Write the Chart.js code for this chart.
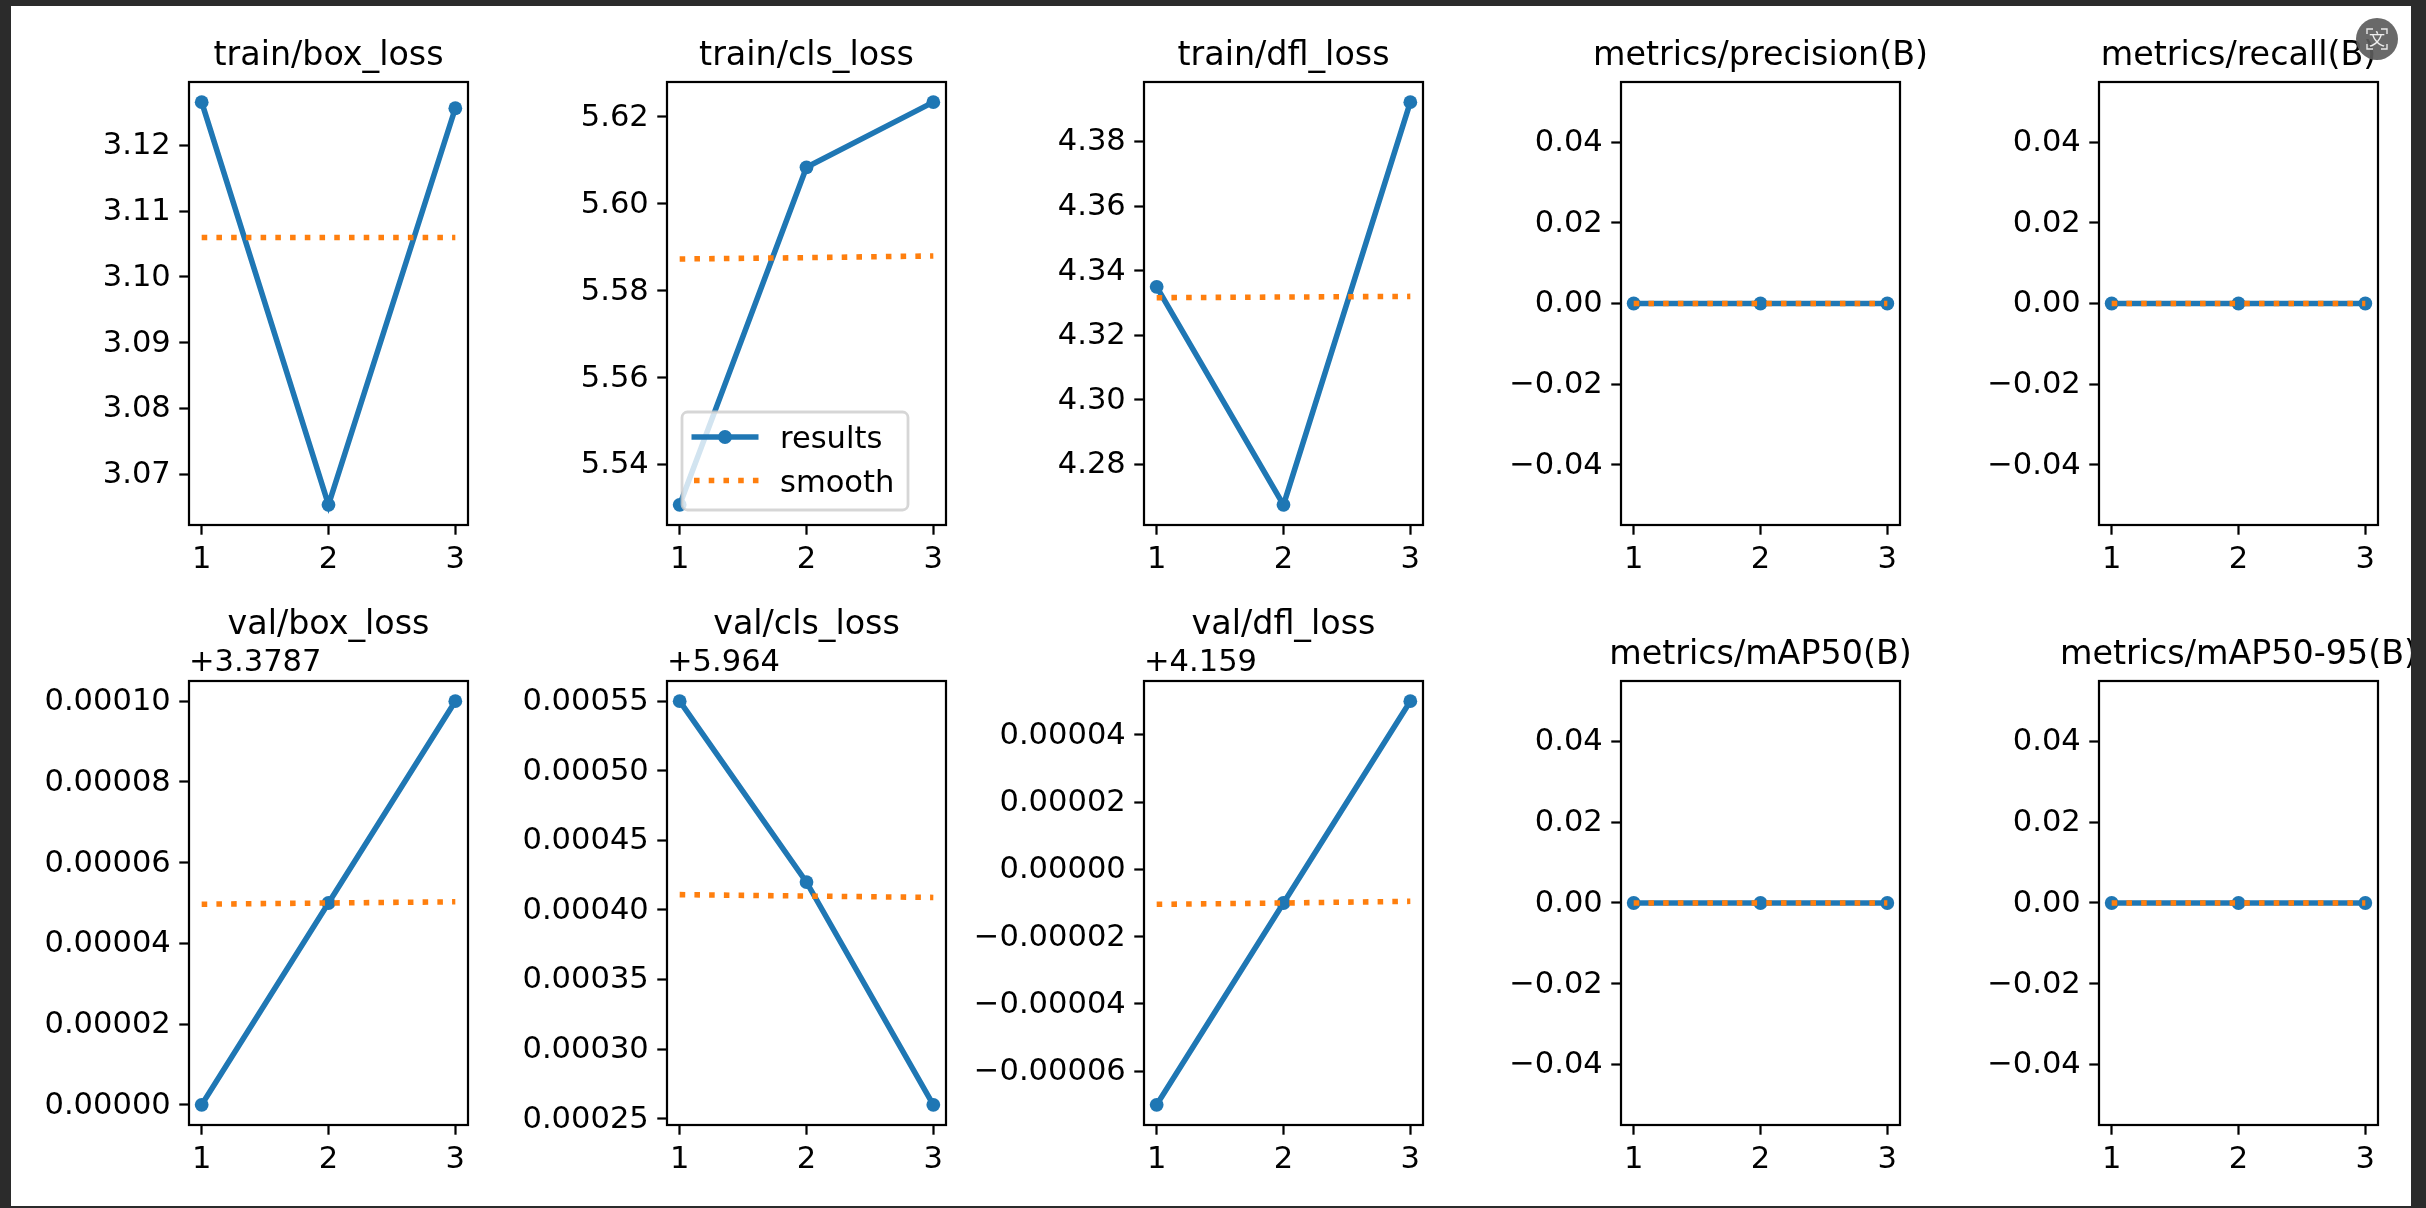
<!DOCTYPE html>
<html>
<head>
<meta charset="utf-8">
<title>results</title>
<script src="https://cdn.jsdelivr.net/npm/chart.js@4/dist/chart.umd.min.js"></script>
<style>
html,body{margin:0;padding:0;width:2426px;height:1208px;background:#2b2b2b;overflow:hidden}
#sheet{position:absolute;left:11px;top:6px;width:2400px;height:1200px;background:#fff;overflow:hidden}
#sheet canvas{position:absolute}
#badge{position:absolute;left:2356px;top:18px;width:42px;height:42px}
</style>
</head>
<body>
<div id="sheet"></div>
<svg id="badge" viewBox="0 0 42 42">
  <circle cx="21" cy="21" r="21" fill="#5c5c5c" fill-opacity="0.92"/>
  <path d="M11 16v-5h6M25 11h6v5M31 26v5h-6M17 31h-6v-5" fill="none" stroke="#e8e8e8" stroke-width="1.4"/>
  <text x="21" y="27" text-anchor="middle" font-family="Noto Sans CJK SC" font-size="16" fill="#f0f0f0">文</text>
</svg>
<script>
// ---------- data ----------
const epochs = [1, 2, 3];
const xTickLabels = ['1', '2', '3'];
const seriesNames = ['results', 'smooth'];

const titles = [
  'train/box_loss', 'train/cls_loss', 'train/dfl_loss', 'metrics/precision(B)', 'metrics/recall(B)',
  'val/box_loss', 'val/cls_loss', 'val/dfl_loss', 'metrics/mAP50(B)', 'metrics/mAP50-95(B)'
];
const offsets = ['', '', '', '', '', '+3.3787', '+5.964', '+4.159', '', ''];

const trainBoxResults = [3.12656, 3.06536, 3.12563];
const trainBoxSmooth  = [3.1060, 3.1060, 3.1060];
const trainClsResults = [5.5307, 5.6084, 5.6234];
const trainClsSmooth  = [5.5873, 5.5876, 5.5880];
const trainDflResults = [4.33497, 4.26741, 4.39219];
const trainDflSmooth  = [4.3316, 4.3318, 4.3320];
const precisionResults = [0, 0, 0];
const precisionSmooth  = [0, 0, 0];
const recallResults = [0, 0, 0];
const recallSmooth  = [0, 0, 0];
const valBoxResults = [0.00000, 0.00005, 0.00010];
const valBoxSmooth  = [0.0000497, 0.0000500, 0.0000503];
const valClsResults = [0.00055, 0.00042, 0.00026];
const valClsSmooth  = [0.000411, 0.000410, 0.000409];
const valDflResults = [-0.00007, -0.00001, 0.00005];
const valDflSmooth  = [-0.0000104, -0.0000100, -0.0000095];
const map50Results = [0, 0, 0];
const map50Smooth  = [0, 0, 0];
const map5095Results = [0, 0, 0];
const map5095Smooth  = [0, 0, 0];

const trainBoxTicks = ['3.07', '3.08', '3.09', '3.10', '3.11', '3.12'];
const trainClsTicks = ['5.54', '5.56', '5.58', '5.60', '5.62'];
const trainDflTicks = ['4.28', '4.30', '4.32', '4.34', '4.36', '4.38'];
const zeroTicks     = ['\u22120.04', '\u22120.02', '0.00', '0.02', '0.04'];
const valBoxTicks   = ['0.00000', '0.00002', '0.00004', '0.00006', '0.00008', '0.00010'];
const valClsTicks   = ['0.00025', '0.00030', '0.00035', '0.00040', '0.00045', '0.00050', '0.00055'];
const valDflTicks   = ['\u22120.00006', '\u22120.00004', '\u22120.00002', '0.00000', '0.00002', '0.00004'];

const resultsByPanel = [trainBoxResults, trainClsResults, trainDflResults, precisionResults, recallResults,
                        valBoxResults, valClsResults, valDflResults, map50Results, map5095Results];
const smoothByPanel  = [trainBoxSmooth, trainClsSmooth, trainDflSmooth, precisionSmooth, recallSmooth,
                        valBoxSmooth, valClsSmooth, valDflSmooth, map50Smooth, map5095Smooth];
const ticksByPanel   = [trainBoxTicks, trainClsTicks, trainDflTicks, zeroTicks, zeroTicks,
                        valBoxTicks, valClsTicks, valDflTicks, zeroTicks, zeroTicks];

// ---------- layout and style ----------
const SHEET_X = 11, SHEET_Y = 6;
const COL_LEFT = [189, 667, 1144, 1621, 2099];
const PANEL_W = 279;
const ROW_TOP = [82, 681];
const PANEL_H = [443, 444];
const SIDE = 200, HEAD = 100, FOOT = 70;
const BLUE = '#1f77b4', ORANGE = '#ff7f0e';
const FONT = '"DejaVu Sans"';
const TITLE_PX = 33.33, TICK_PX = 30.56;
const SPINE = 2.22, TICK_LEN = 9.72, TICK_PAD = 8.5, X_TICK_PAD = 7.5, Y_LABEL_SHIFT = 1;
const LINE = 5.56, DOTS = [5.56, 9.17], MARK_R = 6.9;

Chart.defaults.font.family = FONT;
Chart.defaults.color = '#000';

const framePlugin = {
  id: 'frame',
  afterDraw(chart, args, opts) {
    const { ctx, chartArea: a } = chart;
    ctx.save();
    ctx.strokeStyle = '#000';
    ctx.lineWidth = SPINE;
    ctx.strokeRect(a.left, a.top, a.right - a.left, a.bottom - a.top);
    if (opts.offset) {
      ctx.fillStyle = '#000';
      ctx.font = TICK_PX + 'px ' + FONT;
      ctx.textAlign = 'left';
      ctx.textBaseline = 'alphabetic';
      ctx.fillText(opts.offset, a.left, a.top - 9.5);
    }
    ctx.restore();
  }
};

const boxLegendPlugin = {
  id: 'boxLegend',
  afterDatasetsDraw(chart, args, opts) {
    if (!opts.show) return;
    const { ctx, chartArea: a } = chart;
    const ds = chart.data.datasets;
    const x = a.left + 15, y = a.bottom - 113, w = 226, h = 98, r = 5.5;
    ctx.save();
    ctx.beginPath();
    ctx.roundRect(x, y, w, h, r);
    ctx.fillStyle = 'rgba(255,255,255,0.8)';
    ctx.fill();
    ctx.strokeStyle = 'rgba(204,204,204,0.8)';
    ctx.lineWidth = 2.78;
    ctx.stroke();

    const y1 = y + 25, y2 = y + 68.5;
    ctx.lineCap = 'butt';
    ctx.strokeStyle = ds[0].borderColor;
    ctx.lineWidth = LINE;
    ctx.beginPath(); ctx.moveTo(x + 9.5, y1); ctx.lineTo(x + 76.5, y1); ctx.stroke();
    ctx.fillStyle = ds[0].borderColor;
    ctx.beginPath(); ctx.arc(x + 43, y1, MARK_R, 0, Math.PI * 2); ctx.fill();

    ctx.strokeStyle = ds[1].borderColor;
    ctx.setLineDash(DOTS);
    ctx.beginPath(); ctx.moveTo(x + 12, y2); ctx.lineTo(x + 76.5, y2); ctx.stroke();
    ctx.setLineDash([]);

    ctx.fillStyle = '#000';
    ctx.font = TICK_PX + 'px ' + FONT;
    ctx.textAlign = 'left';
    ctx.textBaseline = 'alphabetic';
    ctx.fillText(ds[0].label, x + 98, y + 35.5);
    ctx.fillText(ds[1].label, x + 98, y + 79.5);
    ctx.restore();
  }
};

function tickValue(label) { return parseFloat(label.replace('\u2212', '-')); }

function yRange(a, b) {
  let lo = Math.min(...a, ...b), hi = Math.max(...a, ...b);
  if (lo === hi) { lo -= 0.05; hi += 0.05; }
  const m = (hi - lo) * 0.05;
  return [lo - m, hi + m];
}

const sheet = document.getElementById('sheet');

titles.forEach((title, i) => {
  const col = i % 5, row = Math.floor(i / 5);
  const results = resultsByPanel[i], smooth = smoothByPanel[i], yLabels = ticksByPanel[i];
  const raised = offsets[i] !== '';
  const [yMin, yMax] = yRange(results, smooth);

  const canvas = document.createElement('canvas');
  canvas.width = SIDE * 2 + PANEL_W;
  canvas.height = HEAD + PANEL_H[row] + FOOT;
  canvas.style.left = (COL_LEFT[col] - SIDE - SHEET_X) + 'px';
  canvas.style.top = (ROW_TOP[row] - HEAD - SHEET_Y) + 'px';
  canvas.style.width = canvas.width + 'px';
  canvas.style.height = canvas.height + 'px';
  sheet.appendChild(canvas);

  new Chart(canvas, {
    type: 'line',
    data: {
      datasets: [
        {
          label: seriesNames[0],
          data: epochs.map((x, k) => ({ x, y: results[k] })),
          borderColor: BLUE, backgroundColor: BLUE, borderWidth: LINE,
          pointRadius: MARK_R, pointBorderWidth: 0, pointBackgroundColor: BLUE,
          tension: 0, fill: false, order: 1
        },
        {
          label: seriesNames[1],
          data: epochs.map((x, k) => ({ x, y: smooth[k] })),
          borderColor: ORANGE, backgroundColor: ORANGE, borderWidth: LINE,
          borderDash: DOTS, borderCapStyle: 'butt',
          pointRadius: 0, tension: 0, fill: false, order: 0
        }
      ]
    },
    options: {
      responsive: false,
      animation: false,
      devicePixelRatio: 1,
      events: [],
      layout: { padding: 0 },
      scales: {
        x: {
          type: 'linear', min: 0.9, max: 3.1,
          afterBuildTicks: s => { s.ticks = xTickLabels.map(t => ({ value: tickValue(t) })); },
          afterFit: s => { s.height = FOOT; },
          border: { display: false },
          grid: { drawOnChartArea: false, drawTicks: true, tickLength: TICK_LEN, tickWidth: SPINE, tickColor: '#000' },
          ticks: {
            autoSkip: false, maxRotation: 0, minRotation: 0, padding: X_TICK_PAD, color: '#000',
            font: { size: TICK_PX, family: FONT },
            callback: (v, k) => xTickLabels[k]
          }
        },
        y: {
          type: 'linear', min: yMin, max: yMax,
          afterBuildTicks: s => { s.ticks = yLabels.map(t => ({ value: tickValue(t) })); },
          afterFit: s => { s.width = SIDE; },
          border: { display: false },
          grid: { drawOnChartArea: false, drawTicks: true, tickLength: TICK_LEN, tickWidth: SPINE, tickColor: '#000' },
          ticks: {
            autoSkip: false, padding: TICK_PAD, labelOffset: Y_LABEL_SHIFT, color: '#000',
            font: { size: TICK_PX, family: FONT },
            callback: (v, k) => yLabels[k]
          }
        },
        y2: {
          type: 'linear', position: 'right', display: true,
          afterFit: s => { s.width = SIDE; },
          border: { display: false },
          grid: { display: false },
          ticks: { display: false }
        }
      },
      plugins: {
        legend: { display: false },
        tooltip: { enabled: false },
        title: {
          display: true, text: title, color: '#000', fullSize: true,
          font: { size: TITLE_PX, family: FONT, weight: 'normal', lineHeight: 1.2 },
          padding: raised ? { top: 24, bottom: 36 } : { top: 54.5, bottom: 5.5 }
        },
        frame: { offset: offsets[i] },
        boxLegend: { show: i === 1 }
      }
    },
    plugins: [framePlugin, boxLegendPlugin]
  });
});
</script>
</body>
</html>
